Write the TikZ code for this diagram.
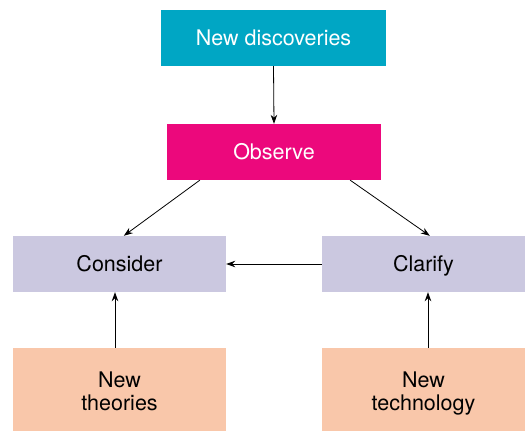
\documentclass[tikz,border=0pt]{standalone}
\usepackage{fontspec}
\setmainfont{TeX Gyre Heros}
\usetikzlibrary{arrows.meta}
\definecolor{cyanbox}{RGB}{0,166,196}
\definecolor{magbox}{RGB}{236,8,124}
\definecolor{lavbox}{RGB}{203,200,224}
\definecolor{peachbox}{RGB}{249,199,170}
\newcommand{\topstrut}{\rule{0pt}{24.7pt}}
\newcommand{\botstrut}{\rule[-6pt]{0pt}{6pt}}
\begin{document}
\begin{tikzpicture}[x=1pt,y=-1pt,
  box/.style={rectangle, inner sep=0pt, align=center, font=\fontsize{21.5}{22.3}\selectfont},
  oneline/.style={box, text height=16.5pt, text depth=2.5pt},
  conn/.style={-{Stealth[length=9pt,width=6.5pt]}, line width=0.8pt, black}]
\useasboundingbox (0,0) rectangle (525,431);
\node[oneline, fill=cyanbox, text=white, minimum width=225pt, minimum height=56pt] (nd) at (273.5,38) {New discoveries};
\node[oneline, fill=magbox, text=white, minimum width=214pt, minimum height=56pt] (obs) at (274,152) {Observe};
\node[oneline, fill=lavbox, minimum width=213pt, minimum height=56pt] (con) at (119.5,264) {Consider};
\node[oneline, fill=lavbox, minimum width=203pt, minimum height=56pt] (cla) at (423.5,264) {Clarify};
\node[box, fill=peachbox, minimum width=213pt, minimum height=83pt] (th) at (119.5,389.5) {\topstrut New\\theories\botstrut};
\node[box, fill=peachbox, minimum width=203pt, minimum height=83pt] (tec) at (423.5,389.5) {\topstrut New\\technology\botstrut};
\draw[conn] (nd.south) -- (obs.north);
\draw[conn] ([xshift=33pt]obs.south west) -- ([xshift=111pt]con.north west);
\draw[conn] ([xshift=-31pt]obs.south east) -- ([xshift=108pt]cla.north west);
\draw[conn] (cla.west) -- (con.east);
\draw[conn] ([xshift=-4.5pt]th.north) -- ([xshift=-4.5pt]con.south);
\draw[conn] ([xshift=4.5pt]tec.north) -- ([xshift=4.5pt]cla.south);
\end{tikzpicture}
\end{document}
